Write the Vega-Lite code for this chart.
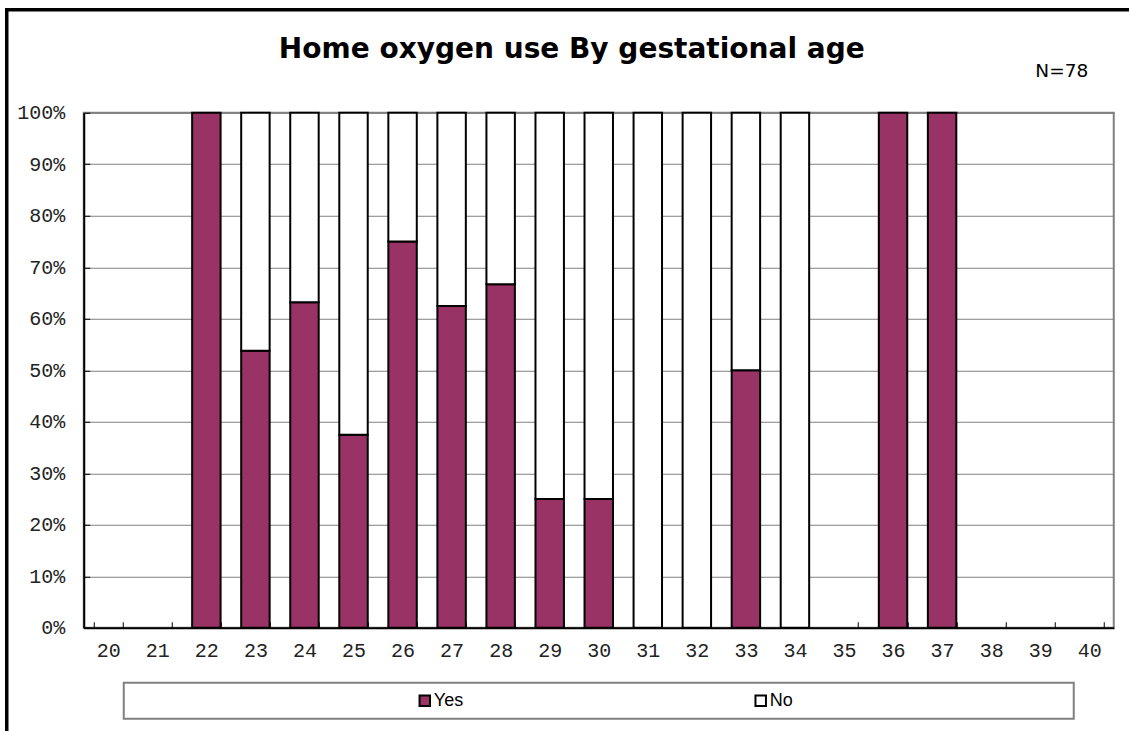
{
  "$schema": "https://vega.github.io/schema/vega-lite/v6.json",
  "padding": {"left": 3.75, "top": 6.75, "right": 0, "bottom": 0},
  "background": "#ffffff",
  "vconcat": [
    {
      "width": 1030,
      "height": 515,
      "title": {
        "text": "Home oxygen use By gestational age",
        "font": "DejaVu Sans",
        "fontSize": 28,
        "fontWeight": "bold",
        "color": "#000000",
        "anchor": "middle",
        "frame": "group",
        "dx": -27,
        "offset": -2
      },
      "view": {"stroke": "#808080", "strokeWidth": 2},
      "layer": [
        {
          "data": {
            "values": [
              {"ga": 22, "resp": "Yes", "ord": 1, "pct": 1.0},
              {"ga": 23, "resp": "Yes", "ord": 1, "pct": 0.538},
              {"ga": 23, "resp": "No", "ord": 2, "pct": 0.462},
              {"ga": 24, "resp": "Yes", "ord": 1, "pct": 0.632},
              {"ga": 24, "resp": "No", "ord": 2, "pct": 0.368},
              {"ga": 25, "resp": "Yes", "ord": 1, "pct": 0.375},
              {"ga": 25, "resp": "No", "ord": 2, "pct": 0.625},
              {"ga": 26, "resp": "Yes", "ord": 1, "pct": 0.75},
              {"ga": 26, "resp": "No", "ord": 2, "pct": 0.25},
              {"ga": 27, "resp": "Yes", "ord": 1, "pct": 0.625},
              {"ga": 27, "resp": "No", "ord": 2, "pct": 0.375},
              {"ga": 28, "resp": "Yes", "ord": 1, "pct": 0.667},
              {"ga": 28, "resp": "No", "ord": 2, "pct": 0.333},
              {"ga": 29, "resp": "Yes", "ord": 1, "pct": 0.25},
              {"ga": 29, "resp": "No", "ord": 2, "pct": 0.75},
              {"ga": 30, "resp": "Yes", "ord": 1, "pct": 0.25},
              {"ga": 30, "resp": "No", "ord": 2, "pct": 0.75},
              {"ga": 31, "resp": "Yes", "ord": 1, "pct": 0.0},
              {"ga": 31, "resp": "No", "ord": 2, "pct": 1.0},
              {"ga": 32, "resp": "Yes", "ord": 1, "pct": 0.0},
              {"ga": 32, "resp": "No", "ord": 2, "pct": 1.0},
              {"ga": 33, "resp": "Yes", "ord": 1, "pct": 0.5},
              {"ga": 33, "resp": "No", "ord": 2, "pct": 0.5},
              {"ga": 34, "resp": "Yes", "ord": 1, "pct": 0.0},
              {"ga": 34, "resp": "No", "ord": 2, "pct": 1.0},
              {"ga": 36, "resp": "Yes", "ord": 1, "pct": 1.0},
              {"ga": 37, "resp": "Yes", "ord": 1, "pct": 1.0}
            ]
          },
          "mark": {"type": "bar", "stroke": "#000000", "strokeWidth": 2, "opacity": 1},
          "encoding": {
            "x": {
              "field": "ga",
              "type": "ordinal",
              "scale": {
                "domain": [20, 21, 22, 23, 24, 25, 26, 27, 28, 29, 30, 31, 32, 33, 34, 35, 36, 37, 38, 39, 40],
                "paddingInner": 0.42,
                "paddingOuter": 0.21
              },
              "axis": {
                "title": null,
                "labelAngle": 0,
                "labelFont": "Liberation Mono",
                "labelFontSize": 20,
                "labelColor": "#222222",
                "labelPadding": 19,
                "tickBand": "extent",
                "tickSize": -6,
                "tickColor": "#000000",
                "tickWidth": 1,
                "domainColor": "#000000",
                "domainWidth": 2,
                "grid": false
              }
            },
            "y": {
              "field": "pct",
              "type": "quantitative",
              "stack": "zero",
              "scale": {"domain": [0, 1], "nice": false},
              "axis": {
                "title": null,
                "values": [0, 0.1, 0.2, 0.3, 0.4, 0.5, 0.6, 0.7, 0.8, 0.9, 1],
                "format": ".0%",
                "labelFont": "Liberation Mono",
                "labelFontSize": 20,
                "labelColor": "#222222",
                "labelPadding": 25,
                "tickSize": -6,
                "tickColor": "#000000",
                "tickWidth": 1,
                "domainColor": "#000000",
                "domainWidth": 2,
                "grid": true,
                "gridColor": "#808080",
                "gridWidth": 1
              }
            },
            "color": {
              "field": "resp",
              "type": "nominal",
              "scale": {"domain": ["Yes", "No"], "range": ["#993366", "#ffffff"]},
              "legend": null
            },
            "order": {"field": "ord", "type": "quantitative"}
          }
        },
        {
          "data": {"values": [{"note": "N=78"}]},
          "mark": {"type": "text", "align": "right", "baseline": "alphabetic", "font": "DejaVu Sans", "fontSize": 18.5, "color": "#000000", "dy": -36, "dx": -1},
          "encoding": {
            "x": {"datum": 40, "type": "ordinal"},
            "y": {"datum": 1, "type": "quantitative"},
            "text": {"field": "note"}
          }
        }
      ]
    },
    {
      "width": 950,
      "height": 36,
      "view": {"stroke": "#808080", "strokeWidth": 2},
      "data": {"values": [{"resp": "Yes"}, {"resp": "No"}]},
      "layer": [
        {
          "mark": {"type": "point", "shape": "square", "filled": true, "size": 110, "stroke": "#000000", "strokeWidth": 2, "opacity": 1, "xOffset": -6},
          "encoding": {
            "x": {"field": "resp", "type": "nominal", "scale": {"type": "point", "domain": ["Yes", "No"], "padding": 0.914}, "axis": null},
            "fill": {
              "field": "resp",
              "type": "nominal",
              "scale": {"domain": ["Yes", "No"], "range": ["#993366", "#ffffff"]},
              "legend": {
                "title": null,
                "orient": "none",
                "legendX": -117,
                "legendY": -673,
                "padding": 760,
                "strokeColor": "#000000",
                "symbolOpacity": 0,
                "labelOpacity": 0,
                "labelExpr": "''"
              }
            }
          }
        },
        {
          "mark": {"type": "text", "align": "left", "baseline": "middle", "font": "Liberation Sans", "fontSize": 18, "color": "#000000", "dx": 3},
          "encoding": {
            "x": {"field": "resp", "type": "nominal", "scale": {"type": "point", "domain": ["Yes", "No"], "padding": 0.914}, "axis": null},
            "text": {"field": "resp"}
          }
        }
      ]
    }
  ],
  "spacing": 55,
  "bounds": "flush",
  "center": true,
  "resolve": {"scale": {"x": "independent", "fill": "independent", "color": "independent"}},
  "config": {"font": "DejaVu Sans", "legend": {"strokeWidth": 3.5}}
}
